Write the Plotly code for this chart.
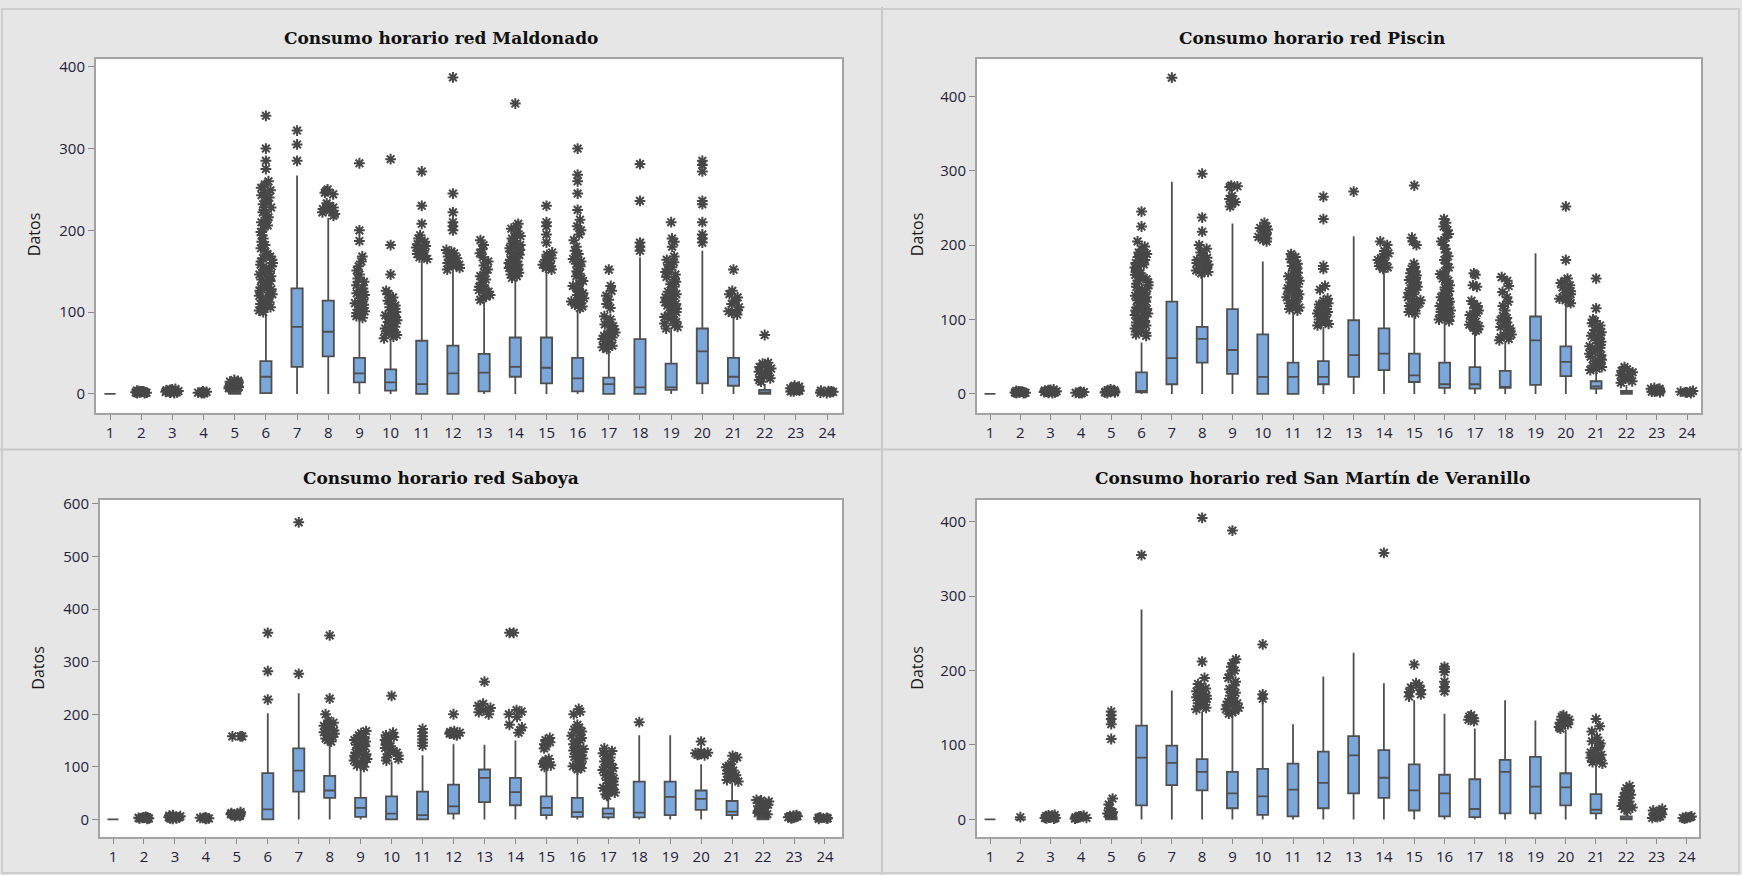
import plotly.graph_objects as go

W, H = 1742, 875

HOURS = list(range(1, 25))
X_TICK_TEXT = [str(h) for h in HOURS]

TITLES = [
    "Consumo horario red Maldonado",
    "Consumo horario red Piscin",
    "Consumo horario red Saboya",
    "Consumo horario red San Martín de Veranillo",
]
Y_LABEL = "Datos"

# ---------------- Maldonado ----------------
MAL_Q1 = [0, 0, 0, 0, 0, 1, 33, 46, 14, 4, 0, 0, 3, 21, 13, 3, 0, 0, 5, 13, 10, 0, 0, 0]
MAL_MED = [0, 0, 0, 0, 1, 21, 82, 76, 25, 14, 12, 25, 26, 33, 32, 19, 12, 8, 8, 52, 21, 2, 1, 0]
MAL_Q3 = [0, 0, 0, 0, 3, 40, 129, 114, 44, 30, 65, 59, 49, 69, 69, 44, 20, 67, 37, 80, 44, 5, 3, 1]
MAL_LO = [0] * 24
MAL_HI = [0, 0, 0, 0, 6, 98, 267, 215, 92, 67, 163, 150, 113, 140, 150, 103, 52, 167, 79, 175, 95, 12, 5, 2]
MAL_CLUSTER = {
    2: [1, 1.5, 2, 2.5, 3, 3.5, 4, 1, 2, 3],
    3: [1, 2, 3, 4, 5, 6, 1.5, 2.5, 3.5, 4.5, 5.5],
    4: [1, 1.5, 2, 2.5, 3, 1, 2],
    5: [7, 8, 9, 10, 11, 12, 13, 14, 15, 16, 17, 7, 9, 11],
    6: [100, 102, 104, 106, 108, 110, 112, 114, 116, 118, 120, 122, 124, 126, 128, 130, 132, 134,
        136, 138, 140, 142, 144, 146, 148, 150, 152, 154, 156, 158, 160, 162, 164, 166, 168, 171,
        174, 178, 182, 186, 190, 194, 198, 202, 206, 210, 213, 216, 219, 222, 225, 228, 232, 236,
        240, 243, 246, 249, 252, 256, 260],
    8: [218, 220, 222, 224, 226, 228, 230, 233, 244, 246, 248, 250],
    9: [93, 95, 97, 99, 101, 103, 105, 107, 109, 111, 113, 115, 117, 119, 121, 123, 125, 127, 129,
        133, 137, 141, 146, 151, 156, 162, 168],
    10: [68, 70, 72, 74, 76, 78, 80, 82, 84, 86, 88, 90, 92, 94, 96, 98, 100, 102, 104, 106, 108,
         110, 114, 118, 122, 126],
    11: [165, 167, 169, 171, 173, 175, 177, 179, 181, 183, 186, 190, 194],
    12: [152, 154, 156, 158, 160, 162, 164, 166, 168, 170, 172, 174, 176],
    13: [115, 117, 119, 121, 123, 125, 127, 129, 131, 133, 136, 140, 144, 148, 152, 157, 162, 167,
         172, 177, 182, 188],
    14: [142, 144, 146, 148, 150, 152, 154, 156, 158, 160, 162, 164, 166, 168, 170, 172, 174, 176,
         178, 180, 182, 184, 187, 190, 193, 196, 199, 202, 205, 208],
    15: [152, 154, 156, 158, 160, 162, 164, 166, 168, 170, 173],
    16: [105, 107, 109, 111, 113, 115, 117, 119, 121, 123, 125, 127, 129, 132, 135, 138, 141, 144,
         147, 150, 153, 156, 159, 162, 165, 168, 171, 175, 180, 188, 195, 200, 205, 213],
    17: [55, 57, 59, 61, 63, 65, 67, 69, 71, 73, 75, 77, 79, 81, 83, 85, 88, 91, 95, 105, 110, 115,
         120, 126, 132],
    19: [80, 82, 84, 86, 88, 90, 92, 94, 96, 98, 100, 102, 104, 106, 108, 110, 112, 114, 116, 118,
         120, 122, 125, 128, 131, 134, 137, 140, 143, 146, 149, 152, 155, 158, 161, 164, 168, 180,
         186, 190],
    21: [97, 99, 101, 103, 106, 110, 114, 118, 122, 126],
    22: [15, 17, 19, 21, 23, 25, 27, 29, 31, 33, 35, 37, 38],
    23: [3, 4, 5, 6, 7, 8, 9, 10, 3, 5, 7],
    24: [1, 2, 3, 4, 1.5, 2.5, 3.5],
}
MAL_SINGLE = {
    6: [275, 285, 300, 340],
    7: [285, 305, 322],
    9: [187, 200, 282],
    10: [146, 182, 287],
    11: [208, 230, 272],
    12: [200, 205, 210, 222, 245, 387],
    14: [355],
    15: [185, 195, 205, 210, 230],
    16: [225, 245, 260, 268, 300],
    17: [152],
    18: [175, 180, 185, 236, 281],
    19: [210],
    20: [185, 190, 195, 210, 232, 236, 272, 280, 285],
    21: [152],
    22: [72],
}

# ---------------- Piscin ----------------
PIS_Q1 = [0, 0, 0, 0, 0, 2, 13, 42, 27, 0, 0, 13, 23, 32, 16, 8, 7, 8, 12, 24, 7, 0, 0, 0]
PIS_MED = [0, 0, 0, 0, 1, 4, 48, 74, 59, 23, 23, 23, 52, 54, 25, 13, 13, 9, 72, 43, 10, 2, 1, 0]
PIS_Q3 = [0, 0, 0, 0, 2, 29, 124, 90, 114, 80, 42, 44, 99, 88, 54, 42, 36, 31, 104, 64, 17, 4, 3, 1]
PIS_LO = [0] * 24
PIS_HI = [0, 0, 0, 0, 2, 69, 285, 160, 229, 178, 110, 90, 212, 165, 104, 97, 82, 70, 189, 120, 30, 12, 5, 2]
PIS_CLUSTER = {
    2: [1, 1.5, 2, 2.5, 3, 3.5, 4, 1, 2, 3],
    3: [1, 2, 3, 4, 5, 6, 1.5, 2.5, 3.5, 4.5, 5.5],
    4: [1, 1.5, 2, 2.5, 3, 1, 2],
    5: [1, 2, 3, 4, 5, 6, 2, 3, 4, 5],
    6: [78, 80, 82, 84, 86, 88, 90, 92, 94, 96, 98, 100, 102, 104, 106, 108, 110, 112, 114, 116,
        118, 120, 122, 124, 126, 128, 130, 132, 134, 136, 138, 140, 142, 144, 146, 148, 150, 152,
        154, 156, 158, 160, 162, 164, 166, 168, 170, 172, 174, 176, 178, 180, 182, 184, 186, 188,
        190, 194, 198, 205],
    8: [162, 164, 166, 168, 170, 172, 174, 176, 178, 180, 183, 186, 190, 195, 200],
    9: [252, 255, 258, 262, 266, 278, 279, 280],
    10: [205, 207, 209, 211, 213, 215, 217, 219, 221, 223, 225, 230],
    11: [112, 114, 116, 118, 120, 122, 124, 126, 128, 130, 132, 134, 136, 138, 140, 142, 144, 146,
         148, 150, 152, 154, 156, 158, 160, 163, 166, 169, 172, 175, 178, 181, 184, 188],
    12: [92, 94, 96, 98, 100, 102, 104, 106, 108, 110, 112, 114, 116, 118, 120, 122, 125, 128, 140, 145],
    14: [168, 170, 172, 174, 176, 178, 180, 182, 184, 186, 189, 192, 200, 205],
    15: [108, 110, 112, 114, 116, 118, 120, 122, 124, 126, 128, 130, 132, 134, 136, 138, 140, 142,
         144, 147, 150, 153, 156, 159, 162, 165, 168, 171, 175, 200, 205, 210],
    16: [98, 100, 102, 104, 106, 108, 110, 112, 114, 116, 118, 120, 122, 124, 126, 128, 130, 132,
         134, 136, 138, 140, 143, 146, 149, 152, 155, 158, 161, 165, 170, 175, 180, 185, 190, 195,
         200, 205, 210, 215, 220, 225, 230, 235],
    17: [85, 87, 89, 91, 93, 95, 97, 100, 103, 106, 109, 112, 115, 118, 121, 125, 144, 146, 160, 162],
    18: [72, 74, 76, 78, 80, 82, 84, 86, 88, 90, 93, 96, 99, 102, 105, 112, 118, 124, 130, 137,
         145, 152, 157],
    20: [122, 124, 126, 128, 130, 132, 134, 136, 138, 140, 143, 146, 149, 152, 155],
    21: [32, 34, 36, 38, 40, 42, 44, 46, 48, 50, 52, 54, 56, 58, 60, 62, 64, 66, 68, 70, 72, 74,
         76, 78, 80, 83, 86, 89, 92, 95, 98, 100],
    22: [15, 17, 19, 21, 23, 25, 27, 29, 31, 33, 36],
    23: [2, 3, 4, 5, 6, 7, 8, 3, 5, 7],
    24: [1, 2, 3, 4, 2, 3],
}
PIS_SINGLE = {
    6: [225, 245],
    7: [425],
    8: [218, 237, 296],
    12: [168, 172, 235, 265],
    13: [272],
    15: [280],
    20: [180, 252],
    21: [115, 155],
}

# ---------------- Saboya ----------------
SAB_Q1 = [0, 0, 0, 0, 0, 0, 53, 41, 5, 0, 0, 11, 33, 27, 8, 5, 4, 4, 8, 18, 8, 0, 0, 0]
SAB_MED = [0, 0, 0, 0, 1, 19, 93, 55, 22, 11, 8, 25, 79, 52, 22, 14, 11, 13, 43, 39, 15, 2, 1, 0]
SAB_Q3 = [0, 0, 0, 0, 3, 88, 135, 83, 41, 44, 53, 66, 95, 79, 44, 41, 21, 72, 72, 55, 35, 5, 3, 1]
SAB_LO = [0] * 24
SAB_HI = [0, 0, 0, 0, 5, 202, 240, 145, 97, 110, 122, 143, 142, 150, 96, 93, 42, 160, 160, 105, 70, 10, 5, 2]
SAB_CLUSTER = {
    2: [1, 2, 3, 4, 5, 2, 3, 4],
    3: [1, 2, 3, 4, 5, 6, 7, 8, 2, 4, 6],
    4: [1, 2, 3, 4, 2, 3],
    5: [6, 8, 10, 12, 14, 7, 9, 11],
    8: [148, 151, 154, 157, 160, 163, 166, 169, 172, 175, 178, 181, 184, 188, 200],
    9: [100, 103, 106, 109, 112, 115, 118, 121, 124, 127, 130, 133, 136, 139, 142, 145, 148, 151,
        154, 157, 160, 164, 168],
    10: [112, 115, 118, 121, 124, 127, 130, 133, 136, 139, 142, 145, 148, 151, 154, 157, 160, 165],
    12: [160, 162, 164, 166, 168, 163, 165],
    13: [200, 204, 208, 212, 216, 220],
    14: [165, 170, 175, 180, 195, 200, 205, 208],
    15: [100, 103, 106, 109, 112, 115, 135, 139, 143, 147, 151, 155],
    16: [95, 98, 101, 104, 107, 110, 113, 116, 119, 122, 125, 128, 131, 134, 137, 140, 143, 147,
         151, 155, 159, 163, 167, 171, 175, 180, 200, 205, 210],
    17: [45, 48, 51, 54, 57, 60, 63, 66, 69, 72, 75, 78, 81, 84, 87, 90, 94, 98, 102, 106, 110,
         114, 118, 122, 126, 130, 135],
    20: [122, 124, 126, 128, 123, 127],
    21: [72, 75, 78, 81, 84, 87, 90, 93, 96, 99, 102, 105, 115, 118, 121],
    22: [10, 13, 16, 19, 22, 25, 28, 31, 34, 37, 12, 20, 28, 36],
    23: [2, 3, 4, 5, 6, 7, 8, 4, 6],
    24: [1, 2, 3, 4, 2, 3],
}
# identical high values shown side by side ("***" / "**")
SAB_TIED = {5: [158, 158, 158], 14: [355, 355]}
SAB_SINGLE = {
    6: [228, 282, 355],
    7: [277, 565],
    8: [230, 350],
    10: [235],
    11: [140, 146, 152, 158, 165, 172],
    12: [200],
    13: [262],
    18: [185],
    20: [148],
}

# ---------------- San Martín de Veranillo ----------------
SMV_Q1 = [0, 0, 0, 0, 0, 19, 46, 39, 15, 6, 4, 15, 35, 29, 12, 4, 3, 8, 8, 19, 8, 0, 0, 0]
SMV_MED = [0, 0, 0, 0, 1, 83, 76, 64, 35, 31, 40, 49, 86, 56, 39, 35, 14, 64, 44, 43, 13, 1, 1, 0]
SMV_Q3 = [0, 0, 0, 0, 3, 126, 99, 81, 64, 68, 75, 91, 112, 93, 74, 60, 54, 80, 84, 62, 34, 4, 3, 1]
SMV_LO = [0] * 24
SMV_HI = [0, 0, 0, 0, 6, 282, 173, 145, 138, 157, 128, 192, 224, 183, 160, 142, 122, 160, 133, 120, 72, 10, 5, 2]
SMV_CLUSTER = {
    3: [1, 2, 3, 4, 5, 6, 1.5, 2.5, 3.5, 4.5, 5.5, 2, 4],
    4: [1, 2, 3, 4, 5, 2, 3, 4],
    5: [7, 8, 9, 10, 7.5, 8.5, 9.5, 15, 20, 28],
    8: [148, 150, 152, 154, 156, 158, 160, 162, 164, 166, 168, 170, 172, 174, 176, 178, 182, 190],
    9: [142, 144, 146, 148, 150, 152, 154, 156, 158, 160, 163, 166, 170, 175, 180, 185, 190, 195,
        200, 205, 210, 215],
    15: [165, 168, 171, 174, 177, 180, 183],
    17: [132, 134, 136, 138, 140],
    20: [122, 124, 126, 128, 130, 132, 134, 136, 138, 140],
    21: [75, 77, 79, 81, 83, 85, 87, 90, 93, 96, 99, 102, 105, 110, 118, 125],
    22: [12, 14, 16, 18, 20, 22, 24, 26, 28, 30, 33, 36, 39, 42, 45],
    23: [2, 4, 6, 8, 10, 12, 14, 3, 5, 7, 9, 11],
    24: [1, 2, 3, 4, 2, 3],
}
SMV_SINGLE = {
    2: [3],
    5: [108, 128, 135, 140, 145],
    6: [355],
    8: [212, 405],
    9: [388],
    10: [162, 168, 235],
    14: [358],
    15: [208],
    16: [172, 178, 185, 198, 202, 205],
    21: [135],
}

Y_TICKS = [
    [0, 100, 200, 300, 400],
    [0, 100, 200, 300, 400],
    [0, 100, 200, 300, 400, 500, 600],
    [0, 100, 200, 300, 400],
]

# ---------------- styling / layout (pixels) ----------------
BG = "#e6e6e6"
BOX_FILL = "#7ba7db"
BOX_LINE = "#4f4f4f"
STAR = "#474747"
FRAME = "#a3a3a3"
TICK_FONT = dict(family="Open Sans, DejaVu Sans, sans-serif", size=15, color="#23233a")

RECTS = [(96, 52, 842, 409), (977, 52, 1701, 409), (100, 497, 842, 837), (977, 497, 1699, 837)]
X_RANGES = [[0.55, 24.48], [0.57, 24.46], [0.58, 24.55], [0.57, 24.4]]
Y_RANGES = [[-23, 410], [-25.3, 450.7], [-34, 607.5], [-24, 429]]
TITLE_POS = [(441, 31), (1312, 31), (441, 475), (1312, 475)]
YLAB_POS = [(34, 230), (917, 230), (38, 667), (917, 667)]

panels = [
    (MAL_Q1, MAL_MED, MAL_Q3, MAL_LO, MAL_HI, MAL_CLUSTER, MAL_SINGLE, {}),
    (PIS_Q1, PIS_MED, PIS_Q3, PIS_LO, PIS_HI, PIS_CLUSTER, PIS_SINGLE, {}),
    (SAB_Q1, SAB_MED, SAB_Q3, SAB_LO, SAB_HI, SAB_CLUSTER, SAB_SINGLE, SAB_TIED),
    (SMV_Q1, SMV_MED, SMV_Q3, SMV_LO, SMV_HI, SMV_CLUSTER, SMV_SINGLE, {}),
]

star_marker = dict(symbol="asterisk-open", size=9, color=STAR, line=dict(color=STAR, width=2))


def flatten(groups):
    xs, ys = [], []
    for h in HOURS:
        for v in groups.get(h, []):
            xs.append(h)
            ys.append(v)
    return xs, ys


def jitter_box(xs, ys, xa, ya, width):
    return go.Box(
        x=xs, y=ys, xaxis=xa, yaxis=ya, width=width, whiskerwidth=0,
        boxpoints="all", jitter=1, pointpos=0,
        fillcolor="rgba(0,0,0,0)", line=dict(color="rgba(0,0,0,0)", width=0),
        marker=star_marker, hoverinfo="skip", showlegend=False,
    )


fig = go.Figure()
layout = {}
annotations = []

for i, (q1, med, q3, lo, hi, clus, sing, tied) in enumerate(panels):
    sfx = "" if i == 0 else str(i + 1)
    xa, ya = "x" + sfx, "y" + sfx
    L, T, R, B = RECTS[i]

    fig.add_trace(go.Box(
        x=HOURS, q1=q1, median=med, q3=q3, lowerfence=lo, upperfence=hi,
        xaxis=xa, yaxis=ya, width=0.36, whiskerwidth=0,
        fillcolor=BOX_FILL, line=dict(color=BOX_LINE, width=1.8),
        boxpoints=False, hoverinfo="skip", showlegend=False,
    ))

    cx, cy = flatten(clus)
    fig.add_trace(jitter_box(cx, cy, xa, ya, 0.44))

    if tied:
        tx_, ty_ = flatten(tied)
        fig.add_trace(jitter_box(tx_, ty_, xa, ya, 0.45))

    sx, sy = flatten(sing)
    fig.add_trace(go.Scatter(
        x=sx, y=sy, xaxis=xa, yaxis=ya, mode="markers",
        marker=star_marker, hoverinfo="skip", showlegend=False,
    ))

    layout["xaxis" + sfx] = dict(
        domain=[L / W, R / W], anchor=ya, range=X_RANGES[i],
        tickmode="array", tickvals=HOURS, ticktext=X_TICK_TEXT,
        showgrid=False, zeroline=False, showline=True, mirror=True,
        linecolor=FRAME, linewidth=2, ticks="outside", ticklen=5, tickwidth=1,
        tickcolor="#8a8a8a", tickfont=TICK_FONT,
    )
    layout["yaxis" + sfx] = dict(
        domain=[1 - B / H, 1 - T / H], anchor=xa, range=Y_RANGES[i],
        tickmode="array", tickvals=Y_TICKS[i],
        showgrid=False, zeroline=False, showline=True, mirror=True,
        linecolor=FRAME, linewidth=2, ticks="outside", ticklen=6, tickwidth=1,
        tickcolor="#8a8a8a", tickfont=TICK_FONT,
    )

    tx, ty = TITLE_POS[i]
    annotations.append(dict(
        text="<b>" + TITLES[i] + "</b>", x=tx / W, y=1 - ty / H, xref="paper", yref="paper",
        showarrow=False, xanchor="center", yanchor="middle",
        font=dict(family="DejaVu Serif, Liberation Serif, serif", size=17, color="#111111"),
    ))
    lx, ly = YLAB_POS[i]
    annotations.append(dict(
        text=Y_LABEL, x=lx / W, y=1 - ly / H, xref="paper", yref="paper",
        showarrow=False, xanchor="center", yanchor="middle", textangle=-90,
        font=dict(family="Open Sans, DejaVu Sans, sans-serif", size=16, color="#1a1a1a"),
    ))

shapes = [
    dict(type="line", xref="paper", yref="paper", x0=882 / W, x1=882 / W, y0=0, y1=1,
         line=dict(color="#c8c8c8", width=2)),
    dict(type="line", xref="paper", yref="paper", x0=0, x1=1, y0=1 - 446 / H, y1=1 - 446 / H,
         line=dict(color="#c8c8c8", width=2)),
    dict(type="rect", xref="paper", yref="paper", x0=2 / W, x1=1 - 3 / W, y0=2 / H, y1=1 - 2 / H,
         line=dict(color="#cdcdcd", width=2)),
]

fig.update_layout(
    width=W, height=H, autosize=False,
    margin=dict(l=0, r=0, t=0, b=0),
    paper_bgcolor=BG, plot_bgcolor="white",
    boxmode="overlay", showlegend=False,
    annotations=annotations, shapes=shapes,
    **layout,
)

fig.write_html(
    "out.html",
    config={"displayModeBar": False},
    post_script="document.body.style.margin='0px';document.body.style.overflow='hidden';",
)
